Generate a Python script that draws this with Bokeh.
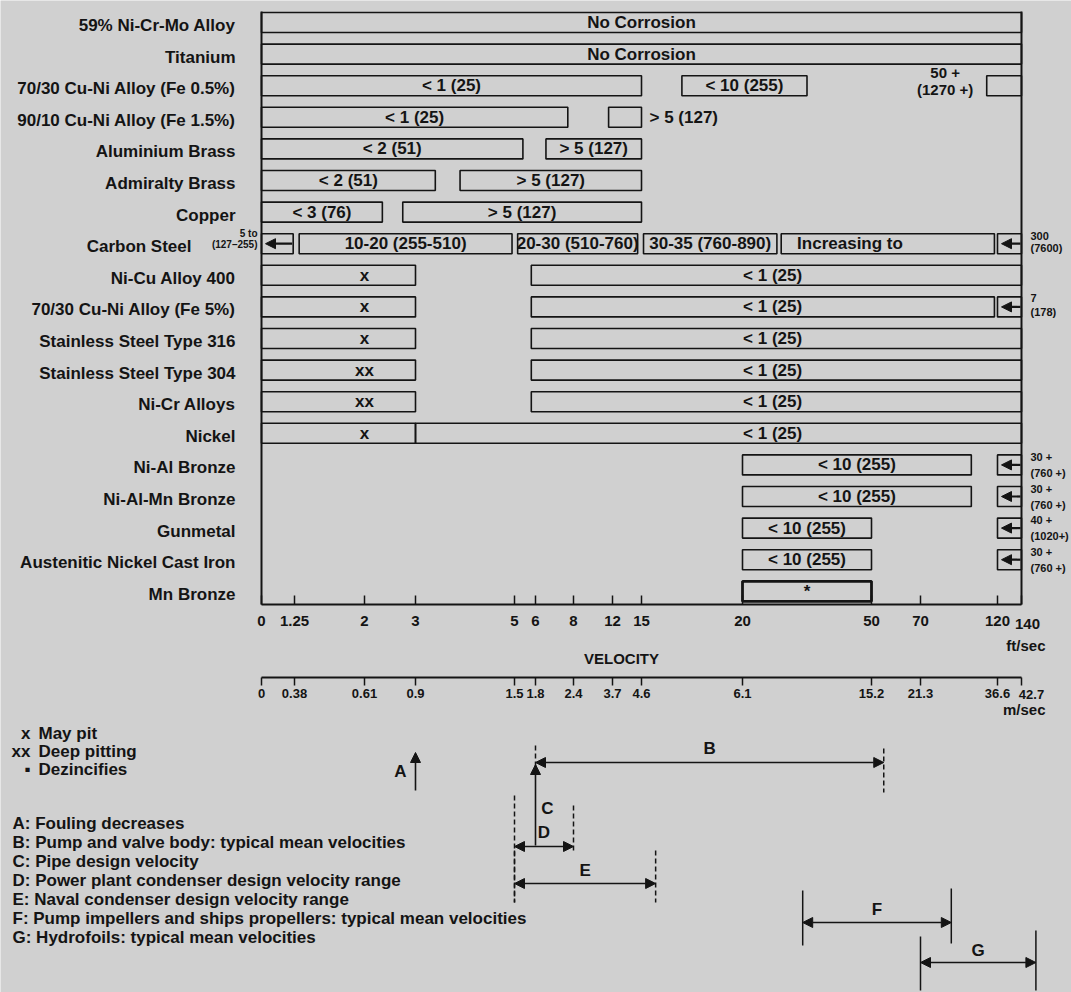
import numpy as np
from bokeh.plotting import figure
from bokeh.models import Range1d, LinearAxis, FixedTicker, ColumnDataSource, Arrow, NormalHead
from bokeh.core.properties import value
from bokeh.embed import file_html
from bokeh.resources import INLINE

# ------------------------------------------------------------------ data
MATERIALS = [
    "59% Ni-Cr-Mo Alloy", "Titanium", "70/30 Cu-Ni Alloy (Fe 0.5%)",
    "90/10 Cu-Ni Alloy (Fe 1.5%)", "Aluminium Brass", "Admiralty Brass", "Copper",
    "Carbon Steel", "Ni-Cu Alloy 400", "70/30 Cu-Ni Alloy (Fe 5%)",
    "Stainless Steel Type 316", "Stainless Steel Type 304", "Ni-Cr Alloys", "Nickel",
    "Ni-Al Bronze", "Ni-Al-Mn Bronze", "Gunmetal", "Austenitic Nickel Cast Iron",
    "Mn Bronze",
]

VEL_FT = [0, 1.25, 2, 3, 5, 6, 8, 12, 15, 20, 50, 70, 120, 140]
FT_LABELS = ["0", "1.25", "2", "3", "5", "6", "8", "12", "15", "20", "50", "70", "120", "140"]
M_LABELS = ["0", "0.38", "0.61", "0.9", "1.5", "1.8", "2.4", "3.7", "4.6", "6.1",
            "15.2", "21.3", "36.6", "42.7"]

# corrosion-rate bands: material, velocity range (ft/sec), rate mils/yr (um/yr)
BAND_MAT = [
    "59% Ni-Cr-Mo Alloy", "Titanium",
    "70/30 Cu-Ni Alloy (Fe 0.5%)", "70/30 Cu-Ni Alloy (Fe 0.5%)", "70/30 Cu-Ni Alloy (Fe 0.5%)",
    "90/10 Cu-Ni Alloy (Fe 1.5%)", "90/10 Cu-Ni Alloy (Fe 1.5%)",
    "Aluminium Brass", "Aluminium Brass",
    "Admiralty Brass", "Admiralty Brass",
    "Copper", "Copper",
    "Carbon Steel", "Carbon Steel", "Carbon Steel", "Carbon Steel",
    "Ni-Cu Alloy 400", "Ni-Cu Alloy 400",
    "70/30 Cu-Ni Alloy (Fe 5%)", "70/30 Cu-Ni Alloy (Fe 5%)",
    "Stainless Steel Type 316", "Stainless Steel Type 316",
    "Stainless Steel Type 304", "Stainless Steel Type 304",
    "Ni-Cr Alloys", "Ni-Cr Alloys",
    "Nickel", "Nickel",
    "Ni-Al Bronze", "Ni-Al-Mn Bronze", "Gunmetal", "Austenitic Nickel Cast Iron", "Mn Bronze",
]
BAND_FROM = [0, 0, 0, 17, 113, 0, 11.6, 0, 6.55, 0, 3.9, 0, 2.75,
             1.3, 5.15, 15.1, 29, 0, 5.8, 0, 5.8, 0, 5.8, 0, 5.8, 0, 5.8, 0, 3,
             20, 20, 20, 20, 20]
BAND_TO = [140, 140, 15, 35, 140, 7.7, 15, 5.4, 15, 3.4, 15, 2.35, 15,
           4.95, 14.6, 28, 118, 3, 140, 3, 118, 3, 140, 3, 140, 3, 140, 3, 140,
           103, 103, 50, 50, 50]
BAND_TEXT = ["No Corrosion", "No Corrosion", "< 1 (25)", "< 10 (255)", "",
             "< 1 (25)", "", "< 2 (51)", "> 5 (127)", "< 2 (51)", "> 5 (127)",
             "< 3 (76)", "> 5 (127)",
             "10-20 (255-510)", "20-30 (510-760)", "30-35 (760-890)", "Increasing to",
             "x", "< 1 (25)", "x", "< 1 (25)", "x", "< 1 (25)", "xx", "< 1 (25)",
             "xx", "< 1 (25)", "x", "< 1 (25)",
             "< 10 (255)", "< 10 (255)", "< 10 (255)", "< 10 (255)", "*"]

# boxes with an arrow: rate increasing towards the value written next to it
INC_MAT = ["Carbon Steel", "Carbon Steel", "70/30 Cu-Ni Alloy (Fe 5%)", "Ni-Al Bronze",
           "Ni-Al-Mn Bronze", "Gunmetal", "Austenitic Nickel Cast Iron"]
INC_FROM = [0, 120, 120, 120, 120, 120, 120]
INC_TO = [1.2, 140, 140, 140, 140, 140, 140]

RATE_MAT = ["70/30 Cu-Ni Alloy (Fe 0.5%)", "Carbon Steel", "Carbon Steel",
            "70/30 Cu-Ni Alloy (Fe 5%)", "Ni-Al Bronze", "Ni-Al-Mn Bronze", "Gunmetal",
            "Austenitic Nickel Cast Iron"]
RATE_HI = ["50 +", "5 to", "300", "7", "30 +", "30 +", "40 +", "30 +"]
RATE_LO = ["(1270 +)", "(127\u2013255)", "(7600)", "(178)", "(760 +)", "(760 +)", "(1020+)", "(760 +)"]

LEGEND_SYM = ["x", "xx", "\u25aa"]
LEGEND_TEXT = ["May pit", "Deep pitting", "Dezincifies"]

MARK_LABEL = ["A", "C"]
MARK_V = [3, 6]
RANGE_LABEL = ["B", "D", "E", "F", "G"]
RANGE_FROM = [6, 5, 5, 34, 70]
RANGE_TO = [55, 8, 15.7, 90, 152]
NOTES = [
    "A:  Fouling decreases",
    "B:  Pump and valve body: typical mean velocities",
    "C:  Pipe design velocity",
    "D:  Power plant condenser design velocity range",
    "E:  Naval condenser design velocity range",
    "F:  Pump impellers and ships propellers: typical mean velocities",
    "G:  Hydrofoils: typical mean velocities",
]

# ------------------------------------------------------------------ layout
W, H = 1071, 992
ORIGIN_X = 261                      # page x of velocity 0
AXIS_PX = [0, 33, 103, 154, 253, 274, 312, 351, 380, 481, 610, 659, 736, 760]  # schematic scale
ROW_TOP, ROW_STEP, BOX_H = 22.0, 31.6, 20.0
AXIS_FT_Y, AXIS_M_Y = 604, 677
INK = "#141414"
BG = "#d0d0d0"
FONT = value("Liberation Sans")
MAIN = "17px"
LABEL_AT = {16: 45, 18: 27, 20: 27, 22: 27, 24: 27, 26: 27, 28: 27}
MARK_AT = 2
RATE_X = [None, -4, 769, 769, 769, 769, 769, 769]
RATE_ALIGN = ["center", "right", "left", "left", "left", "left", "left", "left"]
RATE_DY = [(-13, 4), (-10, 1), (-8, 4), (-9, 5), (-8, 8), (-8, 8), (-8, 8), (-8, 8)]
RATE_SIZE = ["15px", "10px", "11px", "11px", "11px", "11px", "11px", "11px"]
RATE_V0 = 86
LAST_LABEL_DX = 6                   # last tick labels sit just right of the 140 tick
MARK_Y = [(790, 752), (845, 764)]
MARK_LABEL_DX = [-15, 12]
MARK_LABEL_Y = [771, 808]
RANGE_Y = [762, 846, 883, 922, 962]
RANGE_LABEL_Y = [748, 832, 870, 909, 950]
RANGE_TICKS = [((745, 770), (748, 792)), ((795, 902), (805, 852)), ((850, 902), (850, 902)),
               ((890, 945), (888, 943)), ((936, 990), (930, 990))]
RANGE_DASH = ["5 3", "5 3", "5 3", "solid", "solid"]
LEGEND_Y = [733, 751, 769]
NOTE_Y0, NOTE_STEP = 823, 19


def pos(v):
    v = np.atleast_1d(np.asarray(v, dtype=float))
    out = np.interp(v, VEL_FT, AXIS_PX)
    slope = (AXIS_PX[-1] - AXIS_PX[-2]) / (VEL_FT[-1] - VEL_FT[-2])
    return np.where(v > VEL_FT[-1], AXIS_PX[-1] + (v - VEL_FT[-1]) * slope, out)


def px(page_x):
    return page_x - ORIGIN_X


row_y = {m: ROW_TOP + i * ROW_STEP for i, m in enumerate(MATERIALS)}

p = figure(width=W, height=H, x_range=Range1d(-ORIGIN_X, W - ORIGIN_X),
           y_range=Range1d(H, 0), x_axis_type=None, y_axis_type=None,
           toolbar_location=None, output_backend="svg", min_border=0)
p.background_fill_color = BG
p.border_fill_color = BG
p.outline_line_color = None


def txt(x, y, t, size=MAIN, align="left", style="bold", **kw):
    p.text(x=list(x), y=list(y), text=list(t), text_font=FONT, text_font_size=size,
           text_font_style=style, text_align=align, text_baseline="middle",
           text_color=INK, **kw)


# material names
lab_x = [px(191) if m == "Carbon Steel" else px(235) for m in MATERIALS]
txt(lab_x, [row_y[m] + 3 for m in MATERIALS], MATERIALS, align="right")

# frame lines at 0 and 140 ft/sec
top_y = ROW_TOP - BOX_H / 2 - 1
edge = list(pos([VEL_FT[0], VEL_FT[-1]]))
p.segment(x0=edge, x1=edge, y0=[top_y, top_y], y1=[AXIS_FT_Y, AXIS_FT_Y],
          line_color=INK, line_width=2)

# bands
by = np.array([row_y[m] for m in BAND_MAT])
bl, br = pos(BAND_FROM), pos(BAND_TO)
lw = [2.8 if t == "*" else 1.6 for t in BAND_TEXT]
p.quad(left=bl, right=br, top=by - BOX_H / 2, bottom=by + BOX_H / 2, fill_color=None,
       line_color=INK, line_width=lw)
tx = []
for i, t in enumerate(BAND_TEXT):
    if t in ("x", "xx"):
        tx.append(float(pos(MARK_AT)[0]))
    elif i in LABEL_AT:
        tx.append(float(pos(LABEL_AT[i])[0]))
    else:
        tx.append((bl[i] + br[i]) / 2)
txt(tx, by, BAND_TEXT, align="center")

# increasing-rate boxes with arrows
iy = np.array([row_y[m] for m in INC_MAT])
il, ir = pos(INC_FROM), pos(INC_TO)
p.quad(left=il, right=ir, top=iy - BOX_H / 2, bottom=iy + BOX_H / 2, fill_color=None,
       line_color=INK, line_width=1.6)
p.add_layout(Arrow(source=ColumnDataSource(dict(x0=ir - 1, x1=il + 4, y=iy)),
                   x_start="x0", y_start="y", x_end="x1", y_end="y", line_width=2.2,
                   line_color=INK, end=NormalHead(size=10, fill_color=INK, line_color=INK)))

# rate values next to boxes
for i, m in enumerate(RATE_MAT):
    x = float(pos(RATE_V0)[0]) if RATE_X[i] is None else RATE_X[i]
    y = row_y[m]
    txt([x, x], [y + RATE_DY[i][0], y + RATE_DY[i][1]], [RATE_HI[i], RATE_LO[i]],
        size=RATE_SIZE[i], align=RATE_ALIGN[i])

# "> 5 (127)" written beside the small 90/10 box
i90 = BAND_MAT.index("90/10 Cu-Ni Alloy (Fe 1.5%)") + 1
txt([br[i90] + 8], [row_y[BAND_MAT[i90]]], ["> 5 (127)"])

# axes (the label of the last tick is written just right of it, as in the original)
tick_px = [float(v) for v in pos(VEL_FT)]
common = dict(bounds=(tick_px[0], tick_px[-1]), ticker=FixedTicker(ticks=tick_px, minor_ticks=[]),
              axis_line_width=2, axis_line_color=INK, major_tick_line_width=1.5,
              major_tick_line_color=INK, minor_tick_line_color=None,
              major_label_text_font="Liberation Sans",
              major_label_text_font_style="bold", major_label_text_color=INK)


def overrides(labels):
    d = {t: s for t, s in zip(tick_px[:-1], labels[:-1])}
    d[tick_px[-1]] = ""
    return d


ft_axis = LinearAxis(fixed_location=AXIS_FT_Y, major_tick_in=9, major_tick_out=0,
                     major_label_standoff=11, major_label_text_font_size="15px",
                     major_label_overrides=overrides(FT_LABELS), **common)
m_axis = LinearAxis(fixed_location=AXIS_M_Y, major_tick_in=0, major_tick_out=8,
                    major_label_standoff=3, major_label_text_font_size="13px",
                    major_label_overrides=overrides(M_LABELS), **common)
p.add_layout(ft_axis, "below")
p.add_layout(m_axis, "below")
txt([tick_px[-1] + LAST_LABEL_DX], [623], [FT_LABELS[-1]], size="15px", align="center")
txt([tick_px[-1] + LAST_LABEL_DX + 4], [694], [M_LABELS[-1]], size="13px", align="center")
txt([px(1045)], [645], ["ft/sec"], size="15px", align="right")
txt([px(1045)], [709], ["m/sec"], size="15px", align="right")
txt([px(621)], [658], ["VELOCITY"], size="15px", align="center")

# legend of symbols and notes
txt([px(30)] * 3, LEGEND_Y, LEGEND_SYM, align="right")
txt([px(38)] * 3, LEGEND_Y, LEGEND_TEXT)
txt([px(12)] * len(NOTES), [NOTE_Y0 + k * NOTE_STEP for k in range(len(NOTES))], NOTES)

# point markers A and C
mx = pos(MARK_V)
p.add_layout(Arrow(source=ColumnDataSource(dict(x=mx, y0=[a for a, b in MARK_Y], y1=[b for a, b in MARK_Y])),
                   x_start="x", y_start="y0", x_end="x", y_end="y1", line_width=1.6,
                   line_color=INK, end=NormalHead(size=10, fill_color=INK, line_color=INK)))
txt(mx + np.array(MARK_LABEL_DX), MARK_LABEL_Y, MARK_LABEL, align="center")

# velocity ranges B, D, E, F, G
rl, rr = pos(RANGE_FROM), pos(RANGE_TO)
p.add_layout(Arrow(source=ColumnDataSource(dict(x0=rl, x1=rr, y=RANGE_Y)),
                   x_start="x0", y_start="y", x_end="x1", y_end="y", line_width=1.6,
                   line_color=INK, start=NormalHead(size=10, fill_color=INK, line_color=INK),
                   end=NormalHead(size=10, fill_color=INK, line_color=INK)))
txt((rl + rr) / 2, RANGE_LABEL_Y, RANGE_LABEL, align="center")
for k in range(len(RANGE_LABEL)):
    (a0, a1), (b0, b1) = RANGE_TICKS[k]
    p.segment(x0=[rl[k], rr[k]], x1=[rl[k], rr[k]], y0=[a0, b0], y1=[a1, b1],
              line_color=INK, line_width=1.5, line_dash=RANGE_DASH[k])

open("out.html", "w").write(file_html(p, INLINE))
